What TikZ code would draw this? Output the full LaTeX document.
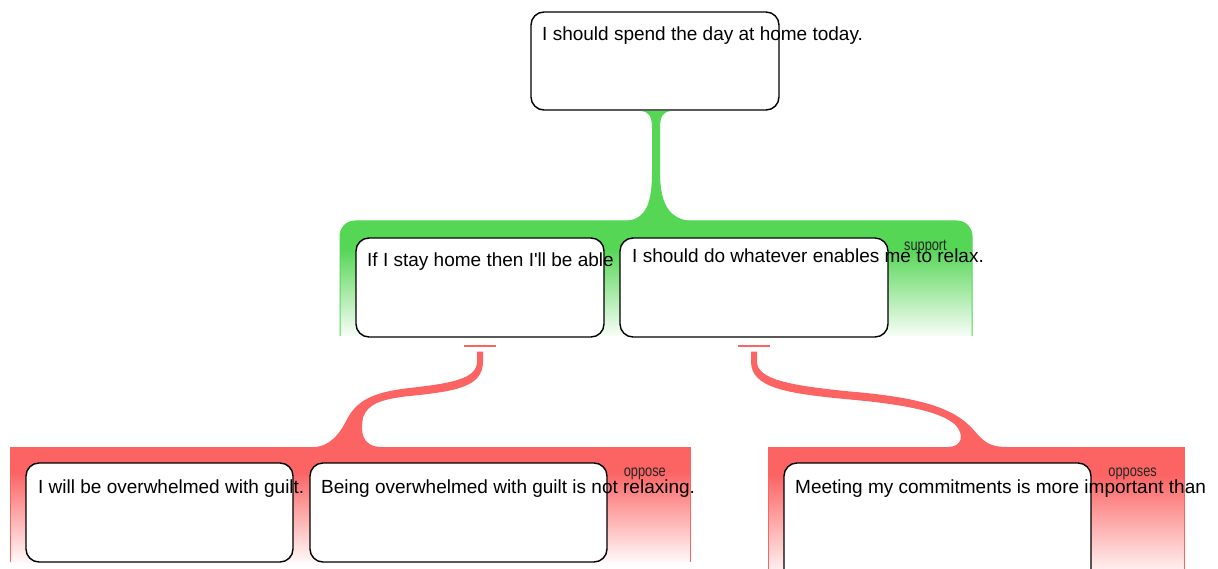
\documentclass[tikz,border=0pt]{standalone}
\usepackage{fontspec}
\setmainfont{Liberation Sans}
\newfontfamily\narrowfont[FakeStretch=0.8]{Liberation Sans}
\usetikzlibrary{positioning}

\definecolor{supgreen}{RGB}{85,214,85}
\definecolor{oppred}{RGB}{252,100,100}
\colorlet{supfade}{supgreen!4!white}
\colorlet{oppfade}{oppred!4!white}
\pgfdeclareverticalshading{supshade}{100bp}{color(0bp)=(supfade); color(25bp)=(supfade); color(63bp)=(supgreen); color(100bp)=(supgreen)}
\pgfdeclareverticalshading{oppshade}{100bp}{color(0bp)=(oppfade); color(25bp)=(oppfade); color(64bp)=(oppred); color(100bp)=(oppred)}

\tikzset{
  argbox/.style={draw=black, line width=1.4pt, fill=white, rounded corners=13pt,
    inner sep=0pt, outer sep=0pt, minimum height=99pt},
  argtext/.style={anchor=base west, inner sep=0pt, text=black,
    font=\fontsize{19}{23}\selectfont},
  reltext/.style={anchor=base east, inner sep=0pt, text=black!85,
    font=\narrowfont\fontsize{16}{19}\selectfont},
  stub/.style={draw=oppred, line width=2pt},
}

\begin{document}
\begin{tikzpicture}[x=1pt, y=-1pt]
    \useasboundingbox (0,0) rectangle (1218,569);

    % Bands behind the premises
    \shadedraw[shading=supshade, draw=supgreen, line width=1pt, rounded corners=15pt]
        (340,336) -- (340,221) -- (972,221) -- (972,336);
    \shadedraw[shading=oppshade, draw=oppred, line width=1pt]
        (10,562) -- (10,447) -- (690,447) -- (690,562);
    \shadedraw[shading=oppshade, draw=oppred, line width=1pt]
        (768,576) -- (768,447) -- (1184,447) -- (1184,576);

    % Claim
    \node[argbox, minimum width=248pt, minimum height=98pt] (claim) at (655,61) {};
    \node[argtext] (claimtxt) at ([shift={(11,29)}]claim.north west) {I should spend the day at home today.};

    % Stem down to the support band
    \begin{scope}[shift={(claim.south)}]
        \fill[supgreen] (-14,1) .. controls (-6,2) and (-3,6) .. (-3,18) -- (-3,62)
            .. controls (-3,100) and (-12,111) .. (-35,111.5) -- (42,111.5)
            .. controls (18,111) and (5,100) .. (5,62) -- (5,18)
            .. controls (5,6) and (8,2) .. (16,1) -- cycle;
    \end{scope}

    % Premises
    \node[argbox, minimum width=248pt] (pro1) at (480,287.5) {};
    \node[argtext] (pro1txt) at ([shift={(11,29)}]pro1.north west) {If I stay home then I\textquotesingle ll be able};
    \node[argbox, minimum width=268pt] (pro2) at (754,287.5) {};
    \node[argtext] (pro2txt) at ([shift={(12,25)}]pro2.north west) {I should do whatever enables me to relax.};

    \coordinate (j1) at ([yshift=-8.5pt]pro1.south);
    \coordinate (j2) at ([yshift=-8.5pt]pro2.south);
    \draw[stub] ([xshift=-16pt]j1) -- ([xshift=16pt]j1);
    \draw[stub] ([xshift=-16pt]j2) -- ([xshift=16pt]j2);

    % Objection links
    \begin{scope}[shift={(j1)}]
        \fill[oppred] (-3,6) -- (3,6) -- (3,16)
            .. controls (3,42) and (-25,46) .. (-75,51)
            .. controls (-98,54) and (-112,58) .. (-117,72)
            .. controls (-119,84) and (-120,101.5) .. (-98,101.5) -- (-167,101.5)
            .. controls (-150,101.5) and (-140,88) .. (-132,72)
            .. controls (-122,54) and (-105,47) .. (-75,43)
            .. controls (-30,38) and (-3,34) .. (-3,16) -- cycle;
    \end{scope}
    \begin{scope}[shift={(j2)}]
        \fill[oppred] (-3,6) -- (3,6) -- (3,16)
            .. controls (3,34) and (36,40) .. (96,46)
            .. controls (166,52) and (201,62) .. (221,86)
            .. controls (231,98) and (238,101.5) .. (253,101.5) -- (194,101.5)
            .. controls (208,101.5) and (211,89) .. (201,79)
            .. controls (186,66) and (151,59) .. (96,54)
            .. controls (31,48) and (-3,42) .. (-3,16) -- cycle;
    \end{scope}

    % Objections
    \node[argbox, minimum width=267pt] (con1) at (159.5,512.5) {};
    \node[argtext] (con1txt) at ([shift={(12,30)}]con1.north west) {I will be overwhelmed with guilt.};
    \node[argbox, minimum width=297pt] (con2) at (458.5,512.5) {};
    \node[argtext] (con2txt) at ([shift={(11,30)}]con2.north west) {Being overwhelmed with guilt is not relaxing.};
    \node[argbox, minimum width=307pt, minimum height=130pt] (con3) at (937.5,528) {};
    \node[argtext] (con3txt) at ([shift={(11,30)}]con3.north west) {Meeting my commitments is more important than};

    % Relation labels
    \node[reltext] (suplbl) at (947,251) {support};
    \node[reltext] (opplbl) at (666,476) {oppose};
    \node[reltext] (opp2lbl) at (1157,476) {opposes};
\end{tikzpicture}
\end{document}
